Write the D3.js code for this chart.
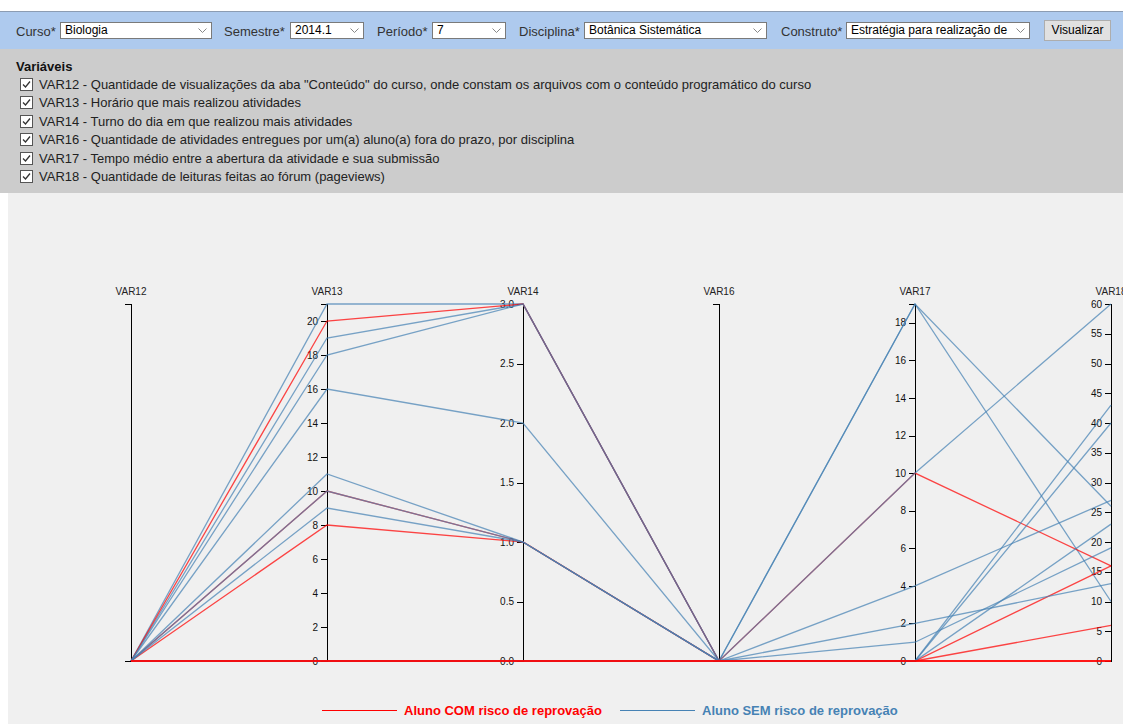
<!DOCTYPE html>
<html>
<head>
<meta charset="utf-8">
<script src="https://cdn.jsdelivr.net/npm/d3@7/dist/d3.min.js"></script>
<style>
  html, body { margin:0; padding:0; width:1123px; height:724px; overflow:hidden; background:#fff;
    font-family: Arial, "Liberation Sans", sans-serif; }
  .bar { position:absolute; left:0; top:11px; width:1123px; height:37px; background:#aecaee; border-top:1px solid #8c9cb2; }
  .lbl { position:absolute; top:12px; font-size:13px; color:#333; line-height:16px; }
  .sel { position:absolute; top:10px; height:17px; background:#fff; border:1px solid #7a7a7a; box-sizing:border-box;
    font-size:12px; line-height:15px; padding-left:4px; color:#000; overflow:hidden; white-space:nowrap; }
  .sel svg { position:absolute; right:4px; top:5px; }
  .btn { position:absolute; left:1044px; top:8px; width:67px; height:21px; background:#e1e1e1; border:1px solid #adadad;
    box-sizing:border-box; font-size:12px; line-height:19px; text-align:center; color:#000; }
  .panel { position:absolute; left:0; top:49px; width:1123px; height:144px; background:#cccccc; }
  .vt { position:absolute; left:16px; top:10px; font-size:13px; font-weight:bold; color:#111; }
  .row { position:absolute; left:20px; font-size:13px; color:#222; line-height:15px; white-space:nowrap; }
  .row svg { vertical-align:-2px; margin-right:6px; }
  #chart { position:absolute; left:8px; top:193px; width:1115px; height:531px; background:#f0f0f0; }
</style>
</head>
<body>
<div class="bar">
  <div class="lbl" style="left:16px">Curso*</div>
  <div class="sel" style="left:60px;width:152px"><span>Biologia</span></div>
  <div class="lbl" style="left:224px">Semestre*</div>
  <div class="sel" style="left:290px;width:74px"><span>2014.1</span></div>
  <div class="lbl" style="left:377px">Período*</div>
  <div class="sel" style="left:432px;width:74px"><span>7</span></div>
  <div class="lbl" style="left:519px">Disciplina*</div>
  <div class="sel" style="left:584px;width:183px"><span>Botânica Sistemática</span></div>
  <div class="lbl" style="left:781px">Construto*</div>
  <div class="sel" style="left:846px;width:184px;padding-right:16px"><span>Estratégia para realização de</span></div>
  <div class="btn">Visualizar</div>
</div>
<div class="panel">
  <div class="vt">Variáveis</div>
</div>
<div id="chart"></div>
<svg id="svg" width="1123" height="724" style="position:absolute;left:0;top:0"></svg>

<script>
// ---------- DATA ----------
const dimensions = ["VAR12", "VAR13", "VAR14", "VAR16", "VAR17", "VAR18"];
const variableLabels = [
  "VAR12 - Quantidade de visualizações da aba \"Conteúdo\" do curso, onde constam os arquivos com o conteúdo programático do curso",
  "VAR13 - Horário que mais realizou atividades",
  "VAR14 - Turno do dia em que realizou mais atividades",
  "VAR16 - Quantidade de atividades entregues por um(a) aluno(a) fora do prazo, por disciplina",
  "VAR17 - Tempo médio entre a abertura da atividade e sua submissão",
  "VAR18 - Quantidade de leituras feitas ao fórum (pageviews)"
];
// one entry per student (drawing order)
const risk  = ["SEM","SEM","COM","SEM","COM","COM","SEM","SEM","SEM","SEM","SEM","SEM","COM","COM","COM"];
const var12 = [0, 0, 0, 0, 0, 0, 0, 0, 0, 0, 0, 0, 0, 0, 0];
const var13 = [21, 19, 20, 18, 10, 8, 16, 11, 10, 9, 0, 0, 0, 0, 0];
const var14 = [3, 3, 3, 3, 1, 1, 2, 1, 1, 1, 0, 0, 0, 0, 0];
const var16 = [0, 0, 0, 0, 0, 0, 0, 0, 0, 0, 0, 0, 0, 0, 0];
const var17 = [19, 19, 10, 10, 0, 0, 4, 2, 1, 0, 0, 0, 0, 0, 0];
const var18 = [26, 10, 16, 60, 16, 6, 27, 13, 19, 43, 40, 23, 0, 0, 0];
// axis domains and tick labels
const domains = { VAR12: [0, 1], VAR13: [0, 21], VAR14: [0, 3], VAR16: [0, 1], VAR17: [0, 19], VAR18: [0, 60] };
const ticks12 = [];
const ticks13 = [0, 2, 4, 6, 8, 10, 12, 14, 16, 18, 20];
const ticks14 = [0, 0.5, 1, 1.5, 2, 2.5, 3];
const ticks16 = [];
const ticks17 = [0, 2, 4, 6, 8, 10, 12, 14, 16, 18];
const ticks18 = [0, 5, 10, 15, 20, 25, 30, 35, 40, 45, 50, 55, 60];
const legendLabels = ["Aluno COM risco de reprovação", "Aluno SEM risco de reprovação"];
const legendKeys = ["COM", "SEM"];

// ---------- variable list ----------
const panel = d3.select(".panel");
variableLabels.forEach((t, i) => {
  const row = panel.append("div").attr("class", "row").style("top", (28 + i * 18.4) + "px");
  row.html('<svg width="13" height="13"><rect x="0.5" y="0.5" width="12" height="12" fill="#fff" stroke="#555"/><path d="M3 6.5 L5.5 9 L10 3.5" fill="none" stroke="#333" stroke-width="1.3"/></svg>');
  row.append("span").text(t);
});
d3.selectAll(".sel").append("svg").attr("width", 9).attr("height", 6)
  .append("path").attr("d", "M0.5 0.5 L4.5 4.5 L8.5 0.5").attr("fill", "none").attr("stroke", "#888").attr("stroke-width", 1);

// ---------- chart ----------
const svg = d3.select("#svg");
const yTop = 304, yBot = 661;
const x = d3.scalePoint().domain(dimensions).range([131, 1111]);
const tickSets = { VAR12: ticks12, VAR13: ticks13, VAR14: ticks14, VAR16: ticks16, VAR17: ticks17, VAR18: ticks18 };
const y = {};
dimensions.forEach(d => { y[d] = d3.scaleLinear().domain(domains[d]).range([yBot, yTop]); });

const columns = { VAR12: var12, VAR13: var13, VAR14: var14, VAR16: var16, VAR17: var17, VAR18: var18 };
const rows = risk.map((r, i) => {
  const o = { risk: r };
  dimensions.forEach(d => o[d] = columns[d][i]);
  return o;
});
const color = d3.scaleOrdinal().domain(["COM", "SEM"]).range(["#ff0000", "#4682b4"]);

// axes
const axisG = svg.selectAll(".dim").data(dimensions).enter().append("g")
  .attr("class", "dim").attr("transform", d => `translate(${x(d)},0)`);
axisG.each(function(d) {
  const ax = d3.axisLeft(y[d]).tickValues(tickSets[d])
    .tickFormat(d === "VAR14" ? d3.format(".1f") : d3.format("d"));
  const g = d3.select(this).call(ax);
  g.selectAll("text").style("font-family", "Arial, 'Liberation Sans', sans-serif").style("font-size", "10px").attr("fill", "#111");
  g.selectAll("path,line").attr("stroke", "#000").attr("shape-rendering", "crispEdges");
});
axisG.append("text").attr("text-anchor", "middle").attr("y", yTop - 9)
  .style("font-family", "Arial, 'Liberation Sans', sans-serif").style("font-size", "10px").attr("fill", "#222")
  .text(d => d);

// lines
const line = d3.line();
svg.append("g").selectAll("path").data(rows).enter().append("path")
  .attr("d", r => line(dimensions.map(d => [x(d), y[d](r[d])])))
  .attr("fill", "none")
  .attr("stroke", r => color(r.risk))
  .attr("stroke-width", 1.3)
  .attr("stroke-opacity", 0.72);

// legend
const lg = svg.append("g");
const legendX = [322, 620];
legendKeys.forEach((k, i) => {
  lg.append("line").attr("x1", legendX[i]).attr("x2", legendX[i] + 75).attr("y1", 710.5).attr("y2", 710.5)
    .attr("stroke", color(k)).attr("stroke-width", 1);
  lg.append("text").attr("x", legendX[i] + 82).attr("y", 715)
    .style("font-family", "Arial, 'Liberation Sans', sans-serif").style("font-size", "13px").style("font-weight", "bold")
    .attr("fill", color(k)).text(legendLabels[i]);
});
</script>
</body>
</html>
